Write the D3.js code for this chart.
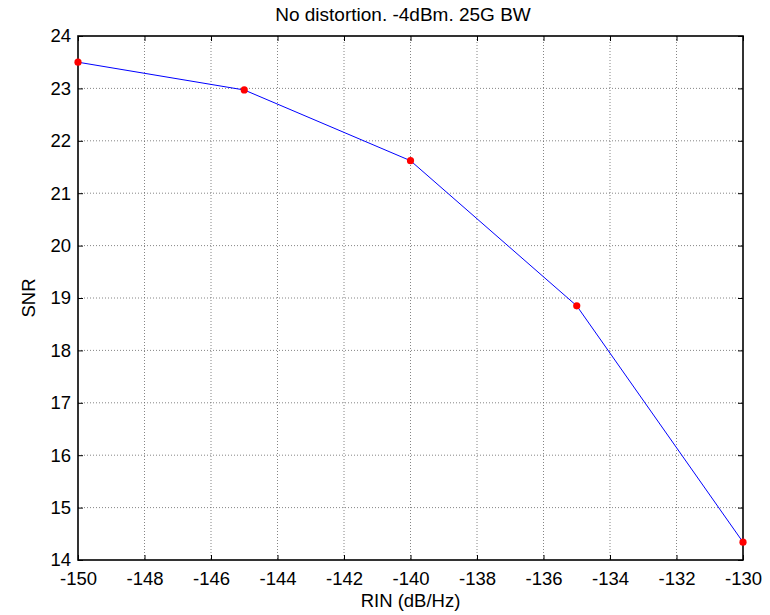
<!DOCTYPE html>
<html>
<head>
<meta charset="utf-8">
<script src="https://cdn.jsdelivr.net/npm/d3@7"></script>
<style>
  body { margin: 0; background: #fff; }
  svg { display: block; font-family: "Liberation Sans", Arial, sans-serif; }
</style>
</head>
<body>
<svg id="chart" width="770" height="615"></svg>
<script>
// RIN sweep vs. SNR
const rin = [-150, -145, -140, -135, -130];
const snr = [23.5, 22.97, 21.62, 18.85, 14.34];
const xTicks = [-150, -148, -146, -144, -142, -140, -138, -136, -134, -132, -130];
const yTicks = [14, 15, 16, 17, 18, 19, 20, 21, 22, 23, 24];
const titleText = "No distortion. -4dBm. 25G BW";
const xLabel = "RIN (dB/Hz)";
const yLabel = "SNR";

const svg = d3.select("#chart");
const margin = { left: 78, right: 27, top: 36, bottom: 55 };
const W = 770, H = 615;
const x = d3.scaleLinear().domain([-150, -130]).range([margin.left, W - margin.right]);
const y = d3.scaleLinear().domain([14, 24]).range([H - margin.bottom, margin.top]);
const x0 = x.range()[0], x1 = x.range()[1], y0 = y.range()[0], y1 = y.range()[1];

// grid
const grid = svg.append("g").attr("stroke", "#666").attr("stroke-width", 0.8).attr("stroke-dasharray", "1,2");
grid.selectAll(".gx").data(xTicks.slice(1, -1)).join("line")
  .attr("x1", d => x(d)).attr("x2", d => x(d)).attr("y1", y1).attr("y2", y0);
grid.selectAll(".gy").data(yTicks.slice(1, -1)).join("line")
  .attr("y1", d => y(d)).attr("y2", d => y(d)).attr("x1", x0).attr("x2", x1);

// axes with inward ticks on all four sides
const tk = 5;
const axB = svg.append("g").attr("transform", `translate(0,${y0})`)
  .call(d3.axisBottom(x).tickValues(xTicks).tickSizeInner(-tk).tickSizeOuter(0).tickPadding(12));
const axT = svg.append("g").attr("transform", `translate(0,${y1})`)
  .call(d3.axisTop(x).tickValues(xTicks).tickSizeInner(-tk).tickSizeOuter(0).tickFormat(""));
const axL = svg.append("g").attr("transform", `translate(${x0},0)`)
  .call(d3.axisLeft(y).tickValues(yTicks).tickSizeInner(-tk).tickSizeOuter(0).tickPadding(7));
const axR = svg.append("g").attr("transform", `translate(${x1},0)`)
  .call(d3.axisRight(y).tickValues(yTicks).tickSizeInner(-tk).tickSizeOuter(0).tickFormat(""));
[axB, axT, axL, axR].forEach(a => {
  a.attr("font-size", null).attr("font-family", null);
  a.select(".domain").remove();
  a.selectAll("line").attr("stroke", "#000").attr("stroke-width", 1);
  a.selectAll("text").attr("fill", "#000").style("font-size", "18.5px");
});
axB.selectAll("text").text(d => d < 0 ? "-" + Math.abs(d) : d);

// frame
svg.append("rect").attr("x", x0).attr("y", y1).attr("width", x1 - x0).attr("height", y0 - y1)
  .attr("fill", "none").attr("stroke", "#000").attr("stroke-width", 1.6);

// data
const pts = rin.map((r, i) => [r, snr[i]]);
svg.append("path").datum(pts)
  .attr("fill", "none").attr("stroke", "#0000ff").attr("stroke-width", 1)
  .attr("d", d3.line().x(d => x(d[0])).y(d => y(d[1])));
svg.selectAll(".pt").data(pts).join("circle")
  .attr("cx", d => x(d[0])).attr("cy", d => y(d[1])).attr("r", 3.6).attr("fill", "#ff0000");

// labels
svg.append("text").attr("x", 403).attr("y", 21).attr("text-anchor", "middle")
  .style("font-size", "19px").text(titleText);
svg.append("text").attr("x", (x0 + x1) / 2).attr("y", 607).attr("text-anchor", "middle")
  .style("font-size", "18.5px").text(xLabel);
svg.append("text").attr("transform", `translate(35,${(y0 + y1) / 2}) rotate(-90)`).attr("text-anchor", "middle")
  .style("font-size", "18.5px").text(yLabel);
</script>
</body>
</html>
